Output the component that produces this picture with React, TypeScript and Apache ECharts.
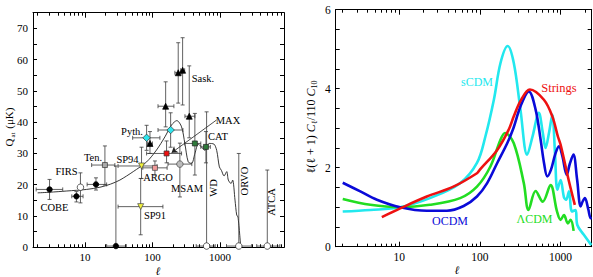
import React, { useEffect, useRef } from "react";
import * as echarts from "echarts";

const FONT = "'Liberation Serif', 'DejaVu Serif', serif";
const lg = (v: number) => Math.log10(v);

// ---------- Left panel: measurements [ℓ, Q, ℓlow, ℓhigh, Qlow, Qhigh] ----------
const cobeDots = [[3, 18.5, 1.9, 4.7, 15.3, 21.7], [7.5, 16.3, 6.4, 9.4, 14.5, 17.8]];
const blackDots = [[14.6, 20.1, 10.8, 21, 18.3, 22.2], [28.8, 0.4, 21, 41, 0, 26]];
const firs = [[8.6, 19.2, 8.6, 8.6, 14.2, 23.8]];
const tenerife = [[19.8, 26.3, 12.6, 27.8, 19.9, 32.4]];
const sp94 = [[69, 26, 31, 117, 22, 32]];
const sp91 = [[67, 13, 31, 143, 4, 22]];
const argo = [[109, 25.4, 72, 165, 23.1, 27.6]];
const python = [[82, 35, 51, 129, 31, 39], [186, 37.5, 121, 283, 32, 43]];
const sask = [[92, 33.2, 85, 100, 30, 37], [157, 45.1, 121, 208, 38.5, 52.9], [241, 55.8, 215, 268, 46.1, 65.4], [280, 56.6, 262, 300, 45.5, 67], [351, 41.9, 303, 425, 35, 58]];
const maxExp = [[162, 30, 82, 270, 27, 34]];
const msam = [[255, 26.6, 170, 383, 16.1, 33.3]];
const cat = [[425, 33.2, 300, 520, 23.1, 42.8], [620, 32.1, 520, 720, 27, 37]];
const upperLimits = [[634, 0.4, 445, 850, 0, 43.3], [1900, 0.4, 1250, 2950, 0, 30], [5020, 0.4, 3500, 7700, 0, 24.7]];

const theory = [[2, 17.4], [3, 17.6], [5.4, 18.0], [10.6, 18.5], [16.7, 19.2], [24, 20.2], [33, 21.5], [52, 24.2], [82, 27.3], [115, 31.1], [153, 35.3], [192, 39.1], [230, 40.5], [270, 38.5], [302, 33.2], [339, 27.3], [380, 26.8], [426, 30.0], [478, 33], [535, 32], [600, 31], [692, 33.2], [813, 33], [894, 31], [980, 25.7], [1050, 24.6], [1150, 22.8], [1260, 24.2], [1330, 21.5], [1460, 20.4], [1540, 21.5], [1670, 15.1], [1770, 10.3], [1850, 9.7], [2030, 0]];

const maxArrowFrom = [890, 40.7];
const maxArrowTo = [192, 30.2];

// ---------- Right panel: model spectra [ℓ, ℓ(ℓ+1)Cℓ/110C10] ----------
const sCDM = [[2, 0.89], [4.4, 0.93], [10.3, 1.0], [24, 1.23], [57, 1.61], [92, 2.12], [117, 2.79], [149, 3.72], [180, 4.65], [221, 5.08], [263, 4.65], [318, 3.47], [385, 2.33], [450, 2.8], [537, 3.39], [600, 2.9], [651, 2.5], [720, 2.9], [789, 3.34], [850, 2.4], [912, 1.44], [1000, 1.69], [1100, 1.25], [1170, 1.19], [1270, 1.4], [1380, 0.89], [1530, 0.93], [1610, 0.55], [1940, 0.3], [2400, 0.04]];
const OCDM = [[2, 1.62], [3.3, 1.4], [5.3, 1.19], [10.3, 1.0], [22, 0.91], [39, 0.91], [63, 1.03], [92, 1.27], [123, 1.61], [164, 2.12], [218, 2.62], [260, 3.0], [318, 3.55], [404, 3.93], [490, 3.47], [565, 2.71], [625, 2.1], [684, 1.78], [760, 1.95], [860, 2.35], [953, 2.54], [1050, 2.3], [1190, 1.82], [1300, 2.1], [1440, 2.33], [1600, 1.7], [1770, 1.02], [1880, 1.15], [2000, 1.23], [2200, 0.95], [2360, 0.72], [2430, 0.72]];
const strings = [[6.1, 0.75], [10.3, 0.97], [22, 1.27], [47, 1.52], [92, 1.86], [100, 1.95], [164, 2.45], [227, 2.96], [263, 3.3], [320, 3.7], [416, 3.98], [621, 3.72], [789, 3.3], [925, 2.79], [1000, 2.58], [1270, 1.65], [1500, 1.06]];
const lambdaCDM = [[2, 1.21], [4.4, 1.06], [10.3, 1.0], [24, 1.06], [57, 1.23], [92, 1.52], [135, 2.03], [180, 2.71], [205, 2.88], [263, 2.62], [350, 1.61], [400, 0.93], [490, 1.41], [600, 1.14], [750, 1.56], [900, 0.9], [1000, 0.68], [1100, 0.8], [1230, 0.59], [1330, 0.68], [1450, 0.4]];

const axisColor = "#000";

function minorLogs(min: number, max: number) {
  const out: number[] = [];
  for (let d = 0; d <= 4; d++) {
    for (let m = 2; m <= 9; m++) {
      const v = d + Math.log10(m);
      if (v > min && v < max) out.push(v);
    }
  }
  return out;
}

function xAxes(grid: number, min: number, max: number, fs: number) {
  const majors = [1, 2, 3].filter((v) => v > min && v < max);
  const minors = minorLogs(min, max);
  const line = { color: axisColor, width: 1 };
  const base = { gridIndex: grid, type: "value", min, max, splitLine: { show: false } };
  return [
    {
      ...base, position: "bottom",
      axisLine: { show: true, lineStyle: line },
      axisTick: { show: true, inside: true, length: 5, customValues: majors, lineStyle: line },
      axisLabel: { customValues: majors, formatter: (v: number) => String(Math.round(Math.pow(10, v))), color: "#000", fontSize: fs, fontFamily: FONT, margin: 4 },
    },
    {
      ...base, position: "bottom",
      axisLine: { show: false },
      axisTick: { show: true, inside: true, length: 3, customValues: minors, lineStyle: line },
      axisLabel: { show: false },
    },
    {
      ...base, position: "top",
      axisLine: { show: true, lineStyle: line },
      axisTick: { show: true, inside: true, length: 5, customValues: majors, lineStyle: line },
      axisLabel: { show: false },
    },
    {
      ...base, position: "top",
      axisLine: { show: false },
      axisTick: { show: true, inside: true, length: 3, customValues: minors, lineStyle: line },
      axisLabel: { show: false },
    },
  ];
}

function yAxes(grid: number, max: number, interval: number, labelEvery: number, fs: number) {
  const line = { color: axisColor, width: 1 };
  const base = { gridIndex: grid, type: "value", min: 0, max, interval, splitLine: { show: false } };
  return [
    {
      ...base, position: "left",
      axisLine: { show: true, lineStyle: line },
      axisTick: { show: true, inside: true, length: 4, lineStyle: line },
      axisLabel: {
        formatter: (v: number) => (Math.abs(v / labelEvery - Math.round(v / labelEvery)) < 1e-6 ? String(v) : ""),
        color: "#000", fontSize: fs, fontFamily: FONT, margin: 5,
      },
    },
    {
      ...base, position: "right",
      axisLine: { show: true, lineStyle: line },
      axisTick: { show: true, inside: true, length: 4, lineStyle: line },
      axisLabel: { show: false },
    },
  ];
}

const toLog = (arr: number[][]) => arr.map((p) => [lg(p[0]), p[1]]);

function scatter(data: number[][], symbol: string, size: number, fill: string, border: string, rotate = 0) {
  return {
    type: "scatter", xAxisIndex: 0, yAxisIndex: 0, z: 4,
    symbol, symbolSize: size, symbolRotate: rotate,
    itemStyle: { color: fill, borderColor: border, borderWidth: 0.7, opacity: 1 },
    data: toLog(data),
    silent: true,
  };
}

export default function App() {
  const ref = useRef<HTMLDivElement>(null);
  useEffect(() => {
    if (!ref.current) return;
    const chart = echarts.init(ref.current, null, { renderer: "svg" });

    const allMeasurements = [
      ...cobeDots, ...blackDots, ...firs, ...tenerife, ...sp94, ...sp91, ...argo,
      ...python, ...sask, ...maxExp, ...msam, ...cat, ...upperLimits,
    ];

    const errSeries = {
      type: "custom", xAxisIndex: 0, yAxisIndex: 0, z: 3, clip: true, silent: true,
      encode: { x: 0, y: 1 },
      data: allMeasurements.map((p) => [lg(p[0]), p[1], lg(p[2]), lg(p[3]), p[4], p[5]]),
      renderItem: (params: any, api: any) => {
        const c = api.coord([api.value(0), api.value(1)]);
        const xl = api.coord([api.value(2), api.value(1)]);
        const xh = api.coord([api.value(3), api.value(1)]);
        const yl = api.coord([api.value(0), api.value(4)]);
        const yh = api.coord([api.value(0), api.value(5)]);
        const st = { stroke: "#3a3a3a", lineWidth: 0.8 };
        const cap = 2;
        const ch: any[] = [];
        const ln = (x1: number, y1: number, x2: number, y2: number) =>
          ch.push({ type: "line", shape: { x1, y1, x2, y2 }, style: st });
        if (xh[0] - xl[0] > 1) {
          ln(xl[0], c[1], xh[0], c[1]);
          ln(xl[0], c[1] - cap, xl[0], c[1] + cap);
          ln(xh[0], c[1] - cap, xh[0], c[1] + cap);
        }
        if (yl[1] - yh[1] > 1) {
          ln(c[0], yl[1], c[0], yh[1]);
          ln(c[0] - cap, yh[1], c[0] + cap, yh[1]);
          ln(c[0] - cap, yl[1], c[0] + cap, yl[1]);
        }
        return { type: "group", children: ch };
      },
    };

    const rightLine = (data: number[][], color: string) => ({
      type: "line", xAxisIndex: 4, yAxisIndex: 2, data: toLog(data),
      symbol: "none", smooth: 0.35, clip: true, silent: true,
      lineStyle: { color, width: 2.6 },
    });

    const txt = (text: string, x: number, y: number, size = 10.5, color = "#000", rot = 0, italic = false) => ({
      type: "text", x, y, rotation: rot, silent: true,
      style: {
        text, fontSize: size, fontFamily: FONT, fill: color, align: "center", verticalAlign: "middle",
        fontStyle: italic ? "italic" : "normal",
      },
    });

    const option: any = {
      animation: false,
      textStyle: { fontFamily: FONT },
      grid: [
        { left: 33, top: 12.7, width: 251, height: 234.6 },
        { left: 335.7, top: 9.7, width: 256, height: 237 },
      ],
      xAxis: [...xAxes(0, 0.232, 3.948, 11), ...xAxes(1, 0.214, 3.385, 11.5)],
      yAxis: [...yAxes(0, 75, 5, 10, 11), ...yAxes(1, 6, 0.5, 2, 11.5)],
      series: [
        {
          type: "line", xAxisIndex: 0, yAxisIndex: 0, data: toLog(theory), symbol: "none",
          smooth: 0.3, clip: true, silent: true, z: 2,
          lineStyle: { color: "#222", width: 0.9 },
        },
        errSeries,
        scatter([...cobeDots, ...blackDots], "circle", 5.5, "#000", "#000"),
        scatter([...firs, ...upperLimits], "circle", 6.5, "#fff", "#222"),
        scatter(tenerife, "rect", 5, "#aaaaaa", "#333"),
        scatter([...sp94, ...sp91], "triangle", 6, "#f2f23c", "#444", 180),
        scatter(argo, "rect", 5, "#f09a9a", "#444"),
        scatter(python, "diamond", 7.5, "#2ee6ee", "#333"),
        scatter(sask, "triangle", 6, "#000", "#000"),
        {
          ...scatter(maxExp, "rect", 5, "#ee1111", "#333"),
          markLine: {
            silent: true, symbol: ["none", "arrow"], symbolSize: 6, animation: false,
            label: { show: false },
            lineStyle: { color: "#222", width: 0.8, type: "solid" },
            data: [[{ coord: [lg(maxArrowFrom[0]), maxArrowFrom[1]] }, { coord: [lg(maxArrowTo[0]), maxArrowTo[1]] }]],
          },
        },
        scatter(msam, "circle", 6.5, "#bbbbbb", "#444"),
        scatter(cat, "rect", 5, "#2e7a3a", "#222"),
        rightLine(sCDM, "#22e8ee"),
        rightLine(lambdaCDM, "#22dd22"),
        rightLine(OCDM, "#0a0ad8"),
        rightLine(strings, "#ee1111"),
      ],
      graphic: [
        txt("Sask.", 203, 78),
        txt("MAX", 228, 120),
        txt("CAT", 218, 136),
        txt("Pyth.", 132, 131),
        txt("Ten.", 93, 157),
        txt("FIRS", 66.5, 171),
        txt("COBE", 54.5, 207),
        txt("SP94", 127.5, 159),
        txt("ARGO", 158, 177),
        txt("MSAM", 187, 188),
        txt("SP91", 155, 215),
        txt("WD", 213.3, 188, 10.5, "#000", Math.PI / 2),
        txt("ORVO", 244, 181, 10.5, "#000", Math.PI / 2),
        txt("ATCA", 271.7, 202, 10.5, "#000", Math.PI / 2),
        txt("sCDM", 477, 82, 12, "#22e8ee"),
        txt("Strings", 559, 88, 12.5, "#ee1111"),
        txt("OCDM", 450, 221, 12, "#0a0ad8"),
        txt("ΛCDM", 534.5, 219, 12, "#22dd22"),
        txt("ℓ", 158, 270.5, 11.5, "#000", 0, true),
        txt("ℓ", 457, 269.5, 11.5, "#000", 0, true),
        {
          type: "text", x: 9, y: 127, rotation: Math.PI / 2, silent: true,
          style: {
            text: "{m|Q}{s|at}{m| (μK)}", align: "center", verticalAlign: "middle",
            rich: {
              m: { fontSize: 11, fontFamily: FONT, fill: "#000", lineHeight: 14 },
              s: { fontSize: 7, fontFamily: FONT, fill: "#000", lineHeight: 8, verticalAlign: "bottom", padding: [0, 1, 0, 1] },
            },
          },
        },
        {
          type: "text", x: 311, y: 127, rotation: Math.PI / 2, silent: true,
          style: {
            text: "{m|ℓ(ℓ + 1) }{i|C}{s|ℓ}{m|/110 }{i|C}{s|10}", align: "center", verticalAlign: "middle",
            rich: {
              m: { fontSize: 12, fontFamily: FONT, fill: "#000", lineHeight: 15 },
              i: { fontSize: 12, fontFamily: FONT, fontStyle: "italic", fill: "#000", lineHeight: 15 },
              s: { fontSize: 8, fontFamily: FONT, fill: "#000", lineHeight: 8, verticalAlign: "bottom" },
            },
          },
        },
      ],
    };
    chart.setOption(option);
    return () => chart.dispose();
  }, []);
  return (
    <div
      ref={ref}
      style={{ position: "fixed", left: 0, top: 0, width: 593, height: 277, background: "#fff" }}
    />
  );
}
